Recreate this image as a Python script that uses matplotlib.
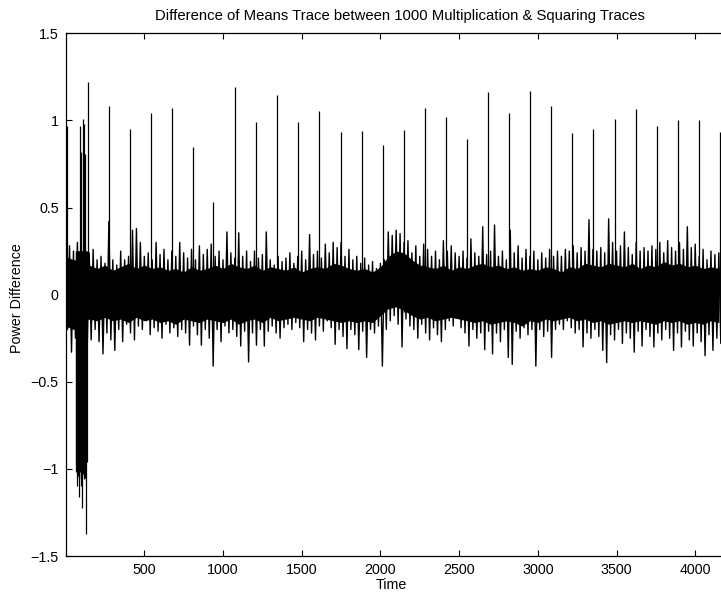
import numpy as np
import matplotlib
matplotlib.use("Agg")
import matplotlib.pyplot as plt

plt.rcParams['font.family'] = ['Liberation Sans', 'DejaVu Sans']

# upper / lower envelope of the noisy trace, one value every 25 time units
step = 25
hi = [0.29, 0.28, 0.25, 0.30, 0.28, 0.30, 0.24, 0.26, 0.20, 0.22,
      0.18, 0.42, 0.20, 0.17, 0.25, 0.20, 0.22, 0.37, 0.38, 0.30,
      0.22, 0.24, 0.20, 0.30, 0.23, 0.26, 0.20, 0.25, 0.22, 0.30,
      0.24, 0.21, 0.26, 0.20, 0.28, 0.23, 0.26, 0.29, 0.22, 0.25,
      0.20, 0.36, 0.24, 0.21, 0.355, 0.22, 0.25, 0.19, 0.25, 0.21,
      0.23, 0.36, 0.20, 0.17, 0.22, 0.19, 0.21, 0.24, 0.18, 0.22,
      0.25, 0.20, 0.345, 0.23, 0.25, 0.21, 0.29, 0.24, 0.30, 0.27,
      0.30, 0.22, 0.26, 0.20, 0.22, 0.18, 0.21, 0.17, 0.19, 0.15,
      0.18, 0.20, 0.36, 0.34, 0.37, 0.35, 0.30, 0.31, 0.24, 0.28,
      0.22, 0.29, 0.26, 0.22, 0.25, 0.20, 0.31, 0.25, 0.28, 0.24,
      0.22, 0.25, 0.21, 0.32, 0.24, 0.22, 0.39, 0.23, 0.25, 0.40,
      0.22, 0.25, 0.20, 0.37, 0.24, 0.28, 0.21, 0.26, 0.22, 0.25,
      0.20, 0.24, 0.21, 0.26, 0.22, 0.25, 0.22, 0.26, 0.25, 0.28,
      0.24, 0.27, 0.25, 0.43, 0.26, 0.25, 0.27, 0.24, 0.435, 0.30,
      0.25, 0.28, 0.36, 0.27, 0.23, 0.30, 0.25, 0.27, 0.25, 0.28,
      0.26, 0.30, 0.24, 0.31, 0.27, 0.25, 0.30, 0.26, 0.39, 0.27,
      0.29, 0.22, 0.26, 0.20, 0.25, 0.23, 0.24, 0.22]
lo = [-0.20, -0.33, -0.25, -0.30, -0.30, -0.30, -0.26, -0.20, -0.27, -0.34,
      -0.22, -0.26, -0.32, -0.20, -0.27, -0.17, -0.22, -0.26, -0.18, -0.20,
      -0.15, -0.23, -0.19, -0.21, -0.25, -0.17, -0.22, -0.19, -0.24, -0.20,
      -0.22, -0.29, -0.18, -0.23, -0.29, -0.20, -0.25, -0.41, -0.20, -0.27,
      -0.18, -0.22, -0.20, -0.24, -0.295, -0.21, -0.386, -0.22, -0.29, -0.20,
      -0.295, -0.21, -0.18, -0.22, -0.25, -0.19, -0.17, -0.20, -0.16, -0.19,
      -0.27, -0.20, -0.22, -0.26, -0.18, -0.21, -0.15, -0.19, -0.285, -0.20,
      -0.24, -0.31, -0.20, -0.23, -0.316, -0.21, -0.36, -0.20, -0.22, -0.18,
      -0.41, -0.20, -0.15, -0.12, -0.17, -0.30, -0.14, -0.18, -0.20, -0.25,
      -0.17, -0.22, -0.26, -0.19, -0.23, -0.27, -0.20, -0.15, -0.18, -0.13,
      -0.19, -0.22, -0.295, -0.20, -0.25, -0.22, -0.316, -0.21, -0.34, -0.22,
      -0.27, -0.20, -0.36, -0.40, -0.21, -0.25, -0.19, -0.23, -0.20, -0.41,
      -0.20, -0.24, -0.21, -0.36, -0.20, -0.17, -0.20, -0.15, -0.19, -0.22,
      -0.20, -0.30, -0.22, -0.25, -0.20, -0.24, -0.32, -0.39, -0.23, -0.26,
      -0.20, -0.28, -0.22, -0.25, -0.33, -0.21, -0.295, -0.20, -0.24, -0.30,
      -0.22, -0.26, -0.20, -0.25, -0.32, -0.22, -0.30, -0.21, -0.26, -0.295,
      -0.22, -0.27, -0.35, -0.23, -0.32, -0.25, -0.28, -0.22]

# extent of the dense (solid black) part of the trace, every 50 time units
core_hi = [0.22, 0.20, 0.20, 0.17, 0.15, 0.17, 0.14, 0.16, 0.18, 0.15,
           0.17, 0.15, 0.16, 0.14, 0.15, 0.13, 0.16, 0.14, 0.15, 0.17,
           0.15, 0.18, 0.16, 0.15, 0.17, 0.14, 0.16, 0.15, 0.14, 0.16,
           0.13, 0.15, 0.16, 0.15, 0.18, 0.17, 0.15, 0.14, 0.15, 0.13,
           0.16, 0.22, 0.25, 0.24, 0.20, 0.17, 0.16, 0.15, 0.17, 0.14,
           0.16, 0.15, 0.17, 0.18, 0.16, 0.17, 0.15, 0.16, 0.14, 0.15,
           0.14, 0.16, 0.15, 0.13, 0.16, 0.15, 0.18, 0.17, 0.16, 0.18,
           0.17, 0.16, 0.18, 0.15, 0.17, 0.16, 0.19, 0.17, 0.18, 0.16,
           0.17, 0.15, 0.16, 0.15]
core_lo = [-0.18, -0.20, -0.16, -0.14, -0.15, -0.13, -0.15, -0.14, -0.16, -0.13,
           -0.15, -0.14, -0.16, -0.15, -0.17, -0.14, -0.15, -0.16, -0.14, -0.15,
           -0.16, -0.14, -0.17, -0.15, -0.14, -0.16, -0.13, -0.15, -0.14, -0.13,
           -0.14, -0.15, -0.13, -0.14, -0.15, -0.16, -0.15, -0.16, -0.15, -0.16,
           -0.12, -0.08, -0.07, -0.09, -0.12, -0.14, -0.13, -0.15, -0.14, -0.13,
           -0.14, -0.15, -0.16, -0.15, -0.17, -0.16, -0.15, -0.16, -0.18, -0.15,
           -0.16, -0.14, -0.15, -0.14, -0.13, -0.15, -0.14, -0.16, -0.15, -0.17,
           -0.16, -0.15, -0.16, -0.15, -0.16, -0.17, -0.15, -0.16, -0.15, -0.17,
           -0.16, -0.17, -0.15, -0.16]

# positive peaks (multiplication points)
spike_t = [11, 91, 100, 109, 117, 125, 140, 276, 409, 543, 676, 810, 938,
           1076, 1209, 1343, 1478, 1612, 1748, 1881, 2015, 2148, 2283, 2417,
           2550, 2683, 2817, 2950, 3084, 3218, 3352, 3488, 3622, 3755, 3888,
           4022, 4157]
spike_v = [0.97, 0.97, 0.82, 1.01, 0.98, 0.81, 1.22, 1.08, 0.95, 1.04, 1.07,
           0.845, 0.53, 1.19, 0.99, 1.145, 0.99, 1.055, 0.935, 0.937, 0.86,
           0.943, 1.07, 1.02, 0.893, 1.163, 1.04, 1.17, 1.08, 0.926, 0.95,
           1.007, 1.063, 0.967, 1.0, 1.0, 0.933]

# negative burst at the start
neg_t = [63, 67, 71, 74, 77, 81, 85, 88, 91, 95, 98, 101, 104, 108, 111, 114,
         117, 120, 123, 126, 129, 134]
neg_v = [-0.97, -1.02, -1.097, -0.99, -1.04, -1.0, -1.16, -1.06, -1.02, -0.98,
         -1.05, -1.1, -1.225, -1.03, -0.99, -1.06, -1.04, -0.97, -1.01, -1.05,
         -1.376, -0.96]

t_hi = np.arange(len(hi)) * step
t_lo = t_hi + step / 2
t_trace = np.column_stack([t_hi, t_lo]).ravel()
v_trace = np.column_stack([hi, lo]).ravel()
t_core = np.arange(len(core_hi)) * 50

fig = plt.figure(figsize=(7.21, 5.92), dpi=100)
ax = fig.add_axes([65.6 / 721, 36 / 592, (726.7 - 65.6) / 721, (556 - 33.3) / 592])

ax.fill_between(t_core, core_lo, core_hi, color='black', lw=0)
ax.plot(t_trace, v_trace, color='black', lw=1.0)
ax.vlines(spike_t, -0.1, spike_v, color='black', lw=0.9)
ax.vlines(neg_t, 0.25, neg_v, color='black', lw=0.9)

ax.set_xlim(0, 4200)
ax.set_ylim(-1.5, 1.5)
ax.set_xticks([500, 1000, 1500, 2000, 2500, 3000, 3500, 4000])
ax.set_yticks([-1.5, -1, -0.5, 0, 0.5, 1, 1.5])
ax.set_yticklabels(['\u22121.5', '\u22121', '\u22120.5', '0', '0.5', '1', '1.5'])
ax.tick_params(direction='in', length=4.3, width=0.8, top=True, right=True,
               labelsize=10.3, pad=5)
for s in ax.spines.values():
    s.set_linewidth(0.9)

fig.text(400 / 721, 1 - 16 / 592,
         'Difference of Means Trace between 1000 Multiplication & Squaring Traces',
         fontsize=10.7, ha='center', va='center')
fig.text(391 / 721, 1 - 585 / 592, 'Time', fontsize=10.3, ha='center', va='center')
fig.text(17 / 721, 1 - 298 / 592, 'Power Difference', fontsize=10.3,
         ha='center', va='center', rotation=90)

fig.savefig('out.png', dpi=100)
